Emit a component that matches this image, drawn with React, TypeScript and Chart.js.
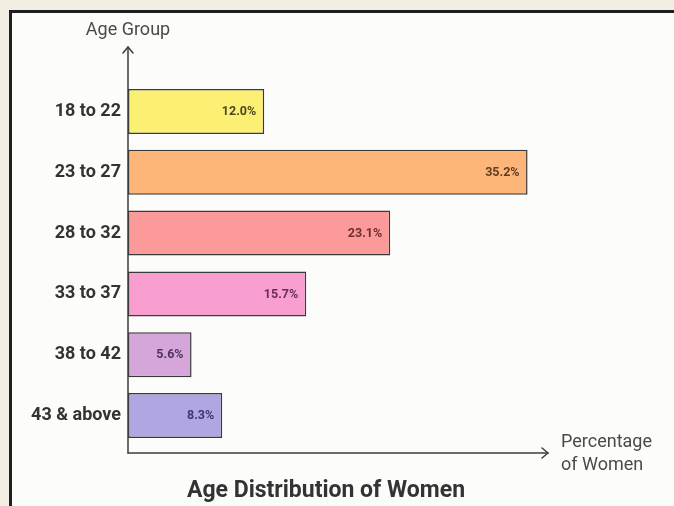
import React, { useEffect, useRef } from "react";
import { Chart, registerables } from "chart.js";

Chart.register(...registerables);

const ageGroups = ["18 to 22", "23 to 27", "28 to 32", "33 to 37", "38 to 42", "43 & above"];
const sharePercent = [12.0, 35.2, 23.1, 15.7, 5.6, 8.3];
const barColors = ["#fbef74", "#fdb579", "#fb9a98", "#f99fcf", "#d4a6d9", "#b0a6e4"];
const valueLabelColors = ["#4d4722", "#5e3f22", "#6a2f2f", "#6a2f55", "#4f3560", "#3f3770"];

const chartTitle = "Age Distribution of Women";
const yAxisTitle = "Age Group";
const xAxisTitle = ["Percentage", "of Women"];

const FONT = "Roboto, 'Noto Sans', sans-serif";

// Axis lines with arrow heads, axis captions, value labels and the title.
const decorations = {
  id: "decorations",
  afterDatasetsDraw(chart: any) {
    const { ctx, chartArea } = chart;
    const left = chartArea.left;
    const axisY = 453;
    const axisTop = 47;
    const axisRight = 548;

    ctx.save();
    ctx.strokeStyle = "#3d3d3d";
    ctx.lineWidth = 1.5;
    ctx.lineCap = "round";
    ctx.lineJoin = "round";

    // vertical axis
    ctx.beginPath();
    ctx.moveTo(left, axisY);
    ctx.lineTo(left, axisTop);
    ctx.stroke();
    ctx.beginPath();
    ctx.moveTo(left - 5, axisTop + 6);
    ctx.lineTo(left, axisTop);
    ctx.lineTo(left + 5, axisTop + 6);
    ctx.stroke();

    // horizontal axis
    ctx.beginPath();
    ctx.moveTo(left, axisY);
    ctx.lineTo(axisRight, axisY);
    ctx.stroke();
    ctx.beginPath();
    ctx.moveTo(axisRight - 6, axisY - 5);
    ctx.lineTo(axisRight, axisY);
    ctx.lineTo(axisRight - 6, axisY + 5);
    ctx.stroke();

    // axis captions
    ctx.fillStyle = "#4a4a4a";
    ctx.font = `18px ${FONT}`;
    ctx.textAlign = "center";
    ctx.textBaseline = "middle";
    ctx.fillText(yAxisTitle, left, 30);

    ctx.textAlign = "left";
    ctx.font = `18px ${FONT}`;
    ctx.fillText(xAxisTitle[0], 561, 442);
    ctx.fillText(xAxisTitle[1], 561, 465);

    // value labels inside the bars
    const meta = chart.getDatasetMeta(0);
    ctx.font = `bold 12.5px ${FONT}`;
    ctx.textAlign = "right";
    ctx.textBaseline = "middle";
    meta.data.forEach((bar: any, i: number) => {
      ctx.fillStyle = valueLabelColors[i];
      ctx.fillText(`${sharePercent[i].toFixed(1)}%`, bar.x - 8, bar.y + 0.5);
    });

    // chart title
    ctx.fillStyle = "#333333";
    ctx.font = `bold 23px ${FONT}`;
    ctx.textAlign = "center";
    ctx.fillText(chartTitle, 326, 491);
    ctx.restore();
  },
};

export default function App() {
  const canvasRef = useRef<HTMLCanvasElement | null>(null);

  useEffect(() => {
    const prevMargin = document.body.style.margin;
    document.body.style.margin = "0";
    const canvas = canvasRef.current;
    if (!canvas) return;
    const chart = new Chart(canvas, {
      type: "bar",
      data: {
        labels: ageGroups,
        datasets: [
          {
            data: sharePercent,
            backgroundColor: barColors,
            borderColor: "#3a3a3a",
            borderWidth: 1.5,
            borderSkipped: false,
            categoryPercentage: 1,
            barPercentage: 0.74,
          },
        ],
      },
      options: {
        indexAxis: "y",
        animation: false,
        responsive: false,
        maintainAspectRatio: false,
        devicePixelRatio: 1,
        layout: { padding: { top: 81, bottom: 60, left: 0, right: 126 } },
        plugins: {
          legend: { display: false },
          tooltip: { enabled: false },
          title: { display: false },
        },
        scales: {
          x: {
            display: false,
            min: 0,
            max: 37,
          },
          y: {
            afterFit(scale: any) {
              scale.width = 128;
            },
            grid: { display: false, drawTicks: false },
            border: { display: false },
            ticks: {
              padding: 7,
              color: "#333333",
              font: { family: FONT, size: 18, weight: "bold" },
            },
          },
        },
      },
      plugins: [decorations],
    });
    return () => {
      chart.destroy();
      document.body.style.margin = prevMargin;
    };
  }, []);

  return (
    <div
      style={{
        position: "relative",
        width: 674,
        height: 506,
        overflow: "hidden",
        background: "#f2eee4",
      }}
    >
      <div
        style={{
          position: "absolute",
          left: 9,
          top: 10,
          width: 700,
          height: 520,
          borderLeft: "3px solid #1f1f1f",
          borderTop: "3px solid #1f1f1f",
          background: "#fcfcfa",
        }}
      />
      <canvas
        ref={canvasRef}
        width={674}
        height={506}
        style={{ position: "absolute", left: 0, top: 0, width: 674, height: 506 }}
      />
    </div>
  );
}
